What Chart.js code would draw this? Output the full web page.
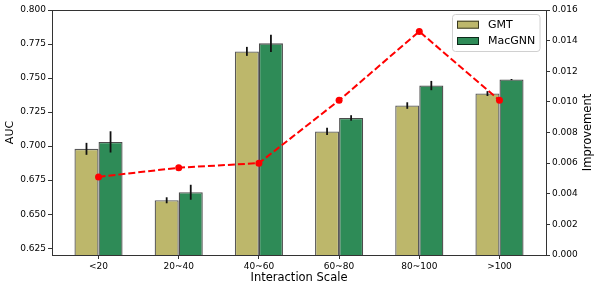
<!DOCTYPE html>
<html>
<head>
<meta charset="utf-8">
<script src="https://cdn.jsdelivr.net/npm/chart.js@4.4.0/dist/chart.umd.min.js"></script>
<style>
  html, body { margin: 0; padding: 0; background: #fff; }
  #wrap { width: 598px; height: 292px; }
</style>
</head>
<body>
<div id="wrap"><canvas id="aucChart" width="598" height="292"></canvas></div>
<script>
// --- DATA ---
const scaleLabels = ['<20', '20~40', '40~60', '60~80', '80~100', '>100'];
const gmtAuc = [0.6980, 0.6602, 0.7696, 0.7108, 0.7298, 0.7386];
const gmtErr = [0.0044, 0.0022, 0.0033, 0.0026, 0.0024, 0.0018];
const macAuc = [0.7031, 0.6661, 0.7755, 0.7207, 0.7445, 0.7489];
const macErr = [0.0078, 0.0055, 0.0064, 0.0020, 0.0034, 0.0004];
const improvement = [0.0051, 0.0057, 0.0060, 0.0101, 0.0146, 0.0101];
const aucTicks = [0.625, 0.650, 0.675, 0.700, 0.725, 0.750, 0.775, 0.800];
const impTicks = [0.000, 0.002, 0.004, 0.006, 0.008, 0.010, 0.012, 0.014, 0.016];

Chart.defaults.font.family = '"DejaVu Sans", sans-serif';
Chart.defaults.color = '#000';

const toPoints = arr => arr.map((v, i) => ({ x: i, y: v }));

// error bars, drawn right after each bar dataset
const errorBars = {
    id: 'errorBars',
    afterDatasetDraw(chart, args) {
        const errs = args.index === 0 ? gmtErr : args.index === 1 ? macErr : null;
        if (!errs) return;
        const vals = args.index === 0 ? gmtAuc : macAuc;
        const y = chart.scales.y;
        const ctx = chart.ctx;
        ctx.save();
        ctx.strokeStyle = '#111';
        ctx.lineWidth = 1.8;
        args.meta.data.forEach((bar, i) => {
            ctx.beginPath();
            ctx.moveTo(bar.x, y.getPixelForValue(vals[i] + errs[i]));
            ctx.lineTo(bar.x, y.getPixelForValue(vals[i] - errs[i]));
            ctx.stroke();
        });
        ctx.restore();
    }
};

// top spine, right axis title and legend box
const decorations = {
    id: 'decorations',
    afterDraw(chart) {
        const ctx = chart.ctx;
        const a = chart.chartArea;
        ctx.save();
        ctx.strokeStyle = '#333';
        ctx.lineWidth = 1;
        ctx.beginPath();
        ctx.moveTo(a.left, Math.round(a.top) + 0.5);
        ctx.lineTo(a.right, Math.round(a.top) + 0.5);
        ctx.stroke();

        ctx.fillStyle = '#000';
        ctx.font = '11.5px "DejaVu Sans"';
        ctx.textAlign = 'center';
        ctx.textBaseline = 'middle';
        ctx.translate(588, (a.top + a.bottom) / 2);
        ctx.rotate(-Math.PI / 2);
        ctx.fillText('Improvement', 0, 0);
        ctx.restore();

        // legend
        ctx.save();
        ctx.fillStyle = 'rgba(255,255,255,0.8)';
        ctx.strokeStyle = '#d0d0d0';
        ctx.lineWidth = 1;
        ctx.beginPath();
        ctx.roundRect(452.5, 14.5, 87.5, 37, 3);
        ctx.fill();
        ctx.stroke();
        const items = [['GMT', '#bdb76b', 24.7], ['MacGNN', '#2e8b57', 41]];
        ctx.font = '11px "DejaVu Sans"';
        ctx.textAlign = 'left';
        ctx.textBaseline = 'middle';
        items.forEach(([name, col, cy]) => {
            ctx.fillStyle = col;
            ctx.fillRect(457, cy - 4, 22, 8);
            ctx.strokeStyle = 'rgba(0,0,0,0.7)';
            ctx.strokeRect(457.5, cy - 3.5, 21, 7);
            ctx.fillStyle = '#000';
            ctx.fillText(name, 488, cy + 0.5);
        });
        ctx.restore();
    }
};

const axisLine = { color: '#333', width: 1 };
const tickMarks = { drawOnChartArea: false, drawTicks: true, tickLength: 4, color: '#333', offset: false };

new Chart(document.getElementById('aucChart'), {
    type: 'bar',
    data: {
        datasets: [{
            label: 'GMT',
            data: toPoints(gmtAuc),
            backgroundColor: '#bdb76b',
            borderColor: 'rgba(0,0,0,0.65)',
            borderWidth: 1.3,
            yAxisID: 'y',
            order: 1
        }, {
            label: 'MacGNN',
            data: toPoints(macAuc),
            backgroundColor: '#2e8b57',
            borderColor: 'rgba(0,0,0,0.7)',
            borderWidth: 1.3,
            yAxisID: 'y',
            order: 1
        }, {
            type: 'line',
            label: 'Improvement',
            data: toPoints(improvement),
            borderColor: '#ff0000',
            backgroundColor: '#ff0000',
            borderWidth: 2,
            borderDash: [7, 3],
            pointRadius: 3.5,
            pointBorderWidth: 0,
            yAxisID: 'y1',
            order: 0
        }]
    },
    options: {
        responsive: false,
        animation: false,
        categoryPercentage: 0.6,
        barPercentage: 1.0,
        layout: { padding: { top: 10, left: 0, right: 0, bottom: 0 } },
        plugins: { legend: { display: false }, tooltip: { enabled: false } },
        scales: {
            x: {
                type: 'linear',
                min: -0.58,
                max: 5.58,
                offset: false,
                grid: tickMarks,
                border: axisLine,
                afterBuildTicks: s => { s.ticks = scaleLabels.map((_, i) => ({ value: i })); },
                afterFit: s => { s.height = 37; },
                ticks: {
                    font: { size: 9 },
                    padding: 2,
                    maxRotation: 0,
                    autoSkip: false,
                    callback: v => scaleLabels[v]
                },
                title: {
                    display: true,
                    text: 'Interaction Scale',
                    font: { size: 11.5 },
                    padding: { top: 0, bottom: 7 }
                }
            },
            y: {
                position: 'left',
                min: 0.62,
                max: 0.80,
                grid: tickMarks,
                border: axisLine,
                afterBuildTicks: s => { s.ticks = aucTicks.map(v => ({ value: v })); },
                afterFit: s => { s.width = 52; },
                ticks: { font: { size: 9 }, padding: 2, callback: v => v.toFixed(3) },
                title: {
                    display: true,
                    text: 'AUC',
                    font: { size: 11 },
                    padding: { top: 4, bottom: 0 }
                }
            },
            y1: {
                position: 'right',
                min: 0,
                max: 0.016,
                grid: tickMarks,
                border: axisLine,
                afterBuildTicks: s => { s.ticks = impTicks.map(v => ({ value: v })); },
                afterFit: s => { s.width = 52; },
                ticks: { font: { size: 9 }, padding: 2, callback: v => v.toFixed(3) }
            }
        }
    },
    plugins: [errorBars, decorations]
});
</script>
</body>
</html>
